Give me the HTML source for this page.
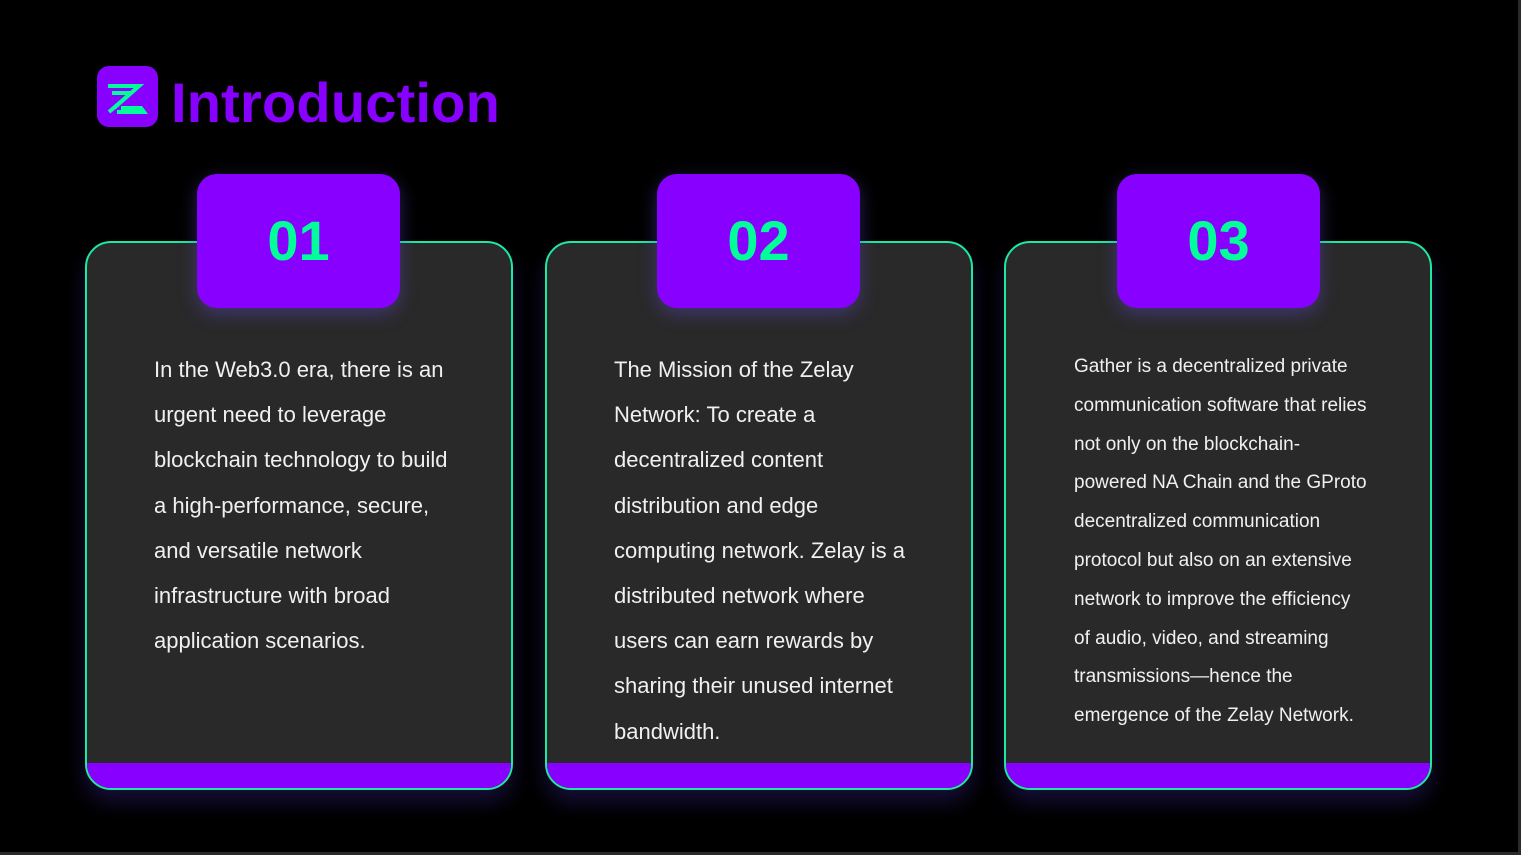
<!DOCTYPE html>
<html><head><meta charset="utf-8"><style>
html,body{margin:0;padding:0;}
body{width:1521px;height:855px;background:#000;position:relative;overflow:hidden;font-family:"Liberation Sans",sans-serif;}
.edge{position:absolute;right:0;top:0;width:3px;height:855px;background:#2a2a2a}
.edgeb{position:absolute;left:0;bottom:0;width:1521px;height:3px;background:#2a2a2a}
.icon{position:absolute;left:97px;top:66px;width:61px;height:61px;border-radius:12px;background:#8800ff}
.title{position:absolute;left:171px;top:70px;font-size:56px;font-weight:bold;color:#8800ff;line-height:66px;letter-spacing:0.2px}
.card{position:absolute;top:241px;width:424px;height:545px;border:2px solid #1de9a0;border-radius:26px;background:#292929;overflow:hidden;box-shadow:0 12px 20px rgba(60,40,160,0.35)}
.card .band{position:absolute;left:0;right:0;bottom:0;height:25px;background:#8800ff}
.tab{position:absolute;top:174px;width:203px;height:134px;border-radius:20px;background:#8800ff;box-shadow:0 6px 18px rgba(90,70,200,0.45);color:#00ff99;font-weight:bold;font-size:56px;text-align:center;line-height:134px}
.txt{position:absolute;color:#f0f0f0;font-size:22px;line-height:45.2px}
.txt3{font-size:19px;line-height:38.8px}
</style></head><body>
<div class="icon"><svg width="61" height="61" viewBox="0 0 61 61"><g fill="none" stroke="#00ff99" stroke-width="4"><path d="M11 20 L42 20 L17 42"/><path d="M15 27 L34 27 L12 46"/><path d="M24 42 L44 42 L47 46 L20 46"/></g></svg></div>
<div class="title">Introduction</div>

<div class="card" style="left:85px"><div class="band"></div></div>
<div class="card" style="left:545px"><div class="band"></div></div>
<div class="card" style="left:1004px"><div class="band"></div></div>

<div class="tab" style="left:197px">01</div>
<div class="tab" style="left:657px">02</div>
<div class="tab" style="left:1117px">03</div>

<div class="txt" style="left:154px;top:347px">In the Web3.0 era, there is an<br>urgent need to leverage<br>blockchain technology to build<br>a high-performance, secure,<br>and versatile network<br>infrastructure with broad<br>application scenarios.</div>
<div class="txt" style="left:614px;top:347px">The Mission of the Zelay<br>Network: To create a<br>decentralized content<br>distribution and edge<br>computing network. Zelay is a<br>distributed network where<br>users can earn rewards by<br>sharing their unused internet<br>bandwidth.</div>
<div class="txt txt3" style="left:1074px;top:348px">Gather is a decentralized private<br>communication software that relies<br>not only on the blockchain-<br>powered NA Chain and the GProto<br>decentralized communication<br>protocol but also on an extensive<br>network to improve the efficiency<br>of audio, video, and streaming<br>transmissions—hence the<br>emergence of the Zelay Network.</div>
<div class="edge"></div><div class="edgeb"></div>
</body></html>
